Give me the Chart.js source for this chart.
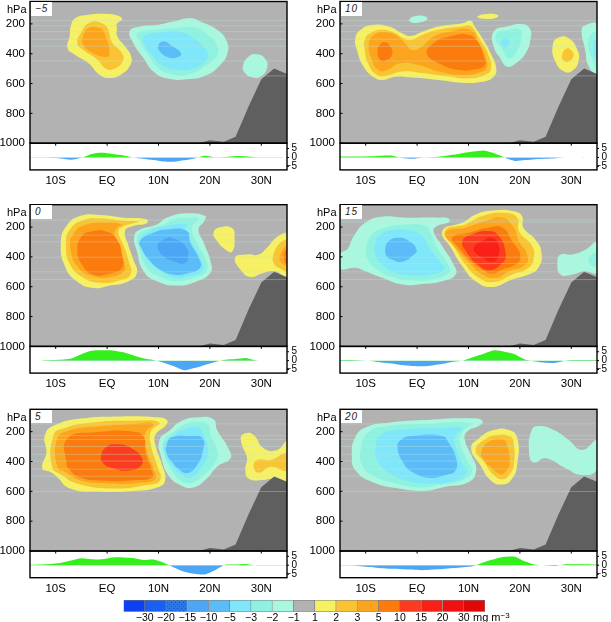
<!DOCTYPE html>
<html><head><meta charset="utf-8">
<style>
html,body{margin:0;padding:0;background:#fff;width:611px;height:622px;overflow:hidden;font-family:"Liberation Sans",Arial,sans-serif}
canvas{position:absolute}
.t{position:absolute;color:#000;white-space:nowrap;line-height:1}
.tag{position:absolute;background:#fff;color:#222;font-style:italic;font-size:10px;line-height:13px;width:21px;height:13.5px;padding-left:4px;box-sizing:border-box;letter-spacing:1px}
</style>
<script src="https://cdn.jsdelivr.net/npm/chart.js@4/dist/chart.umd.min.js"></script>
</head><body>
<script>
// ---------- axes ----------
const latTicks=[-10,0,10,20,30];
const latLabels=['10S','EQ','10N','20N','30N'];
const presTicks=[200,400,600,800,1000];
const stripTicks=[5,0,-5];
const barLabels=['−30','−20','−15','−10','−5','−3','−2','−1','1','2','3','5','10','15','20','30'];
const barColors=['#0c40f2','#1a60f0','#2a78e8','#4da6f5','#5cbcf8','#80e6fa','#8ff2e0','#aaf7e0','#b2b2b2','#f5f064','#f9c433','#fca41e','#fc7b0e','#fc3c1e','#fa2018','#f01010','#e00808'];
const levelColor={'-10':'#4da6f5','-5':'#5cbcf8','-3':'#80e6fa','-2':'#8ff2e0','-1':'#aaf7e0','1':'#f5f064','2':'#f9c433','3':'#fca41e','5':'#fc7b0e','10':'#fc3c1e','15':'#fa2018'};

// ---------- terrain (lat, hPa) ----------
const terrain=[[17.8,1000],[20,980],[22.7,990],[25,957],[27.5,755],[30,572],[32.5,500],[35,536],[35,1000]];

// ---------- strip values ----------
const stripLat=[-15,-13,-11,-9,-7,-5,-3,-1,1,3,5,7,9,11,13,15,17,19,21,23,25,27,29,31,33,35];
const stripM5=[-.2,-.2,-.3,-.6,-1.3,-.2,2,2.6,2,1.2,0,-.7,-1.5,-2.3,-2.4,-1.6,-.6,1,.1,.2,.8,.7,.1,.1,.1,0];
const strip10=[.5,.5,.5,.7,1,1.1,-.3,-.8,-.2,.2,.7,1.5,2.5,3.3,3.9,2.3,-.1,-2,-1.5,-1,-.8,-.4,-.1,-.1,-.1,0];
const strip0=[-.1,-.1,.3,.5,1.2,3.6,5.5,5.8,5.7,4.8,3,1.3,.3,-1.2,-3.2,-5.4,-4.2,-2.4,-.7,.5,.9,1.5,.1,-.1,-.1,-.1];
const strip15=[.3,.3,.1,-.2,-1,-1.6,-2.5,-3,-3.2,-2.7,-1.8,-.6,.1,2.1,3.9,5.8,5,3.6,.6,-.5,-1.2,-1.2,.1,.3,.3,.3];
const strip5=[.2,.4,.7,1.3,2.6,3.9,3.4,3.3,4.4,4.4,4,3,3.2,1.4,-1.2,-3.6,-4.8,-5.2,-2.8,.3,.4,.7,-.1,-.2,-.2,-.1];
const strip20=[-.1,-.2,-.5,-1,-1.7,-2,-2.2,-2.4,-2.8,-2.4,-2.1,-1.6,-1.1,-.4,1.7,3.3,4.7,4.8,2.1,.3,-.1,-.4,.5,.5,.5,.3];

// ---------- faint pressure lines ----------
const linesM5=[178,213,252,303,350,449,549];
const lines10=[178,213,252,303,350,449,549];
const lines0=[153,254,299,402,500,552];
const lines15=[153,167,254,299,402,444,500,552];
const lines5=[148,227,252,299,352,397,451,498,601];
const lines20=[148,227,252,299,352,397,451,498,601];

// ---------- contours, lag -5 ----------
const m5a=[[-7,207],[-6.2,162],[-4,140],[-.1,133],[2.2,146],[2.9,169],[1.9,200],[1.9,229],[2,285],[3.5,352],[4.7,420],[4.5,476],[2.9,536],[.6,563],[-1.4,543],[-3.6,464],[-6.2,408],[-7.7,364],[-7.3,285]];
const m5b=[[-5.8,330],[-4.9,250],[-3.6,195],[-1.4,190],[.1,230],[.9,320],[2.9,397],[3.1,446],[1.6,498],[-.1,502],[-2,437],[-4.6,375]];
const m5c=[[-4.7,285],[-3.6,230],[-1.4,230],[-.4,275],[.45,408],[-.7,420],[-3.3,385],[-4.6,340]];
const m5d=[[4.4,250],[6.4,218],[9.7,207],[12.9,184],[16.2,162],[18.1,184],[21.4,240],[23.3,319],[23.4,397],[22,476],[19.4,543],[15.5,572],[11.6,565],[9,520],[7.1,431],[5.1,330]];
const m5e=[[5.8,263],[9.7,240],[13.5,228],[17.5,228],[20,285],[21.4,341],[21.4,408],[19.4,476],[16.2,536],[12.3,536],[9.7,487],[8,408],[6.4,319]];
const m5f=[[7.2,285],[10.6,256],[14.2,252],[16.8,296],[19.4,386],[19.3,442],[16.8,498],[13.6,509],[10.6,476],[8.7,408],[7.4,352]];
const m5g=[[10,341],[11,319],[12.3,341],[14.4,397],[13.6,424],[11.9,424],[10.3,386]];
const m5h=[[26.4,487],[27.5,420],[29.2,404],[30.8,437],[31.1,498],[29.8,554],[28.2,558],[26.8,527]];
const panelM5=[[1,m5a],[2,m5b],[3,m5c],[-1,m5d],[-2,m5e],[-3,m5f],[-5,m5g],[-1,m5h]];

// ---------- contours, lag 10 ----------
const t10a=[[-12,296],[-11,240],[-8.8,207],[-5.5,218],[-2.9,263],[-1.3,281],[1,252],[4.2,218],[8.8,196],[10.5,180],[11,207],[12.7,296],[14.3,397],[15.4,498],[14.9,554],[12.7,588],[8.8,594],[4.2,576],[-1.6,558],[-4.2,554],[-6.8,576],[-8.4,558],[-10.4,487],[-11.7,375]];
const t10b=[[-10.1,296],[-9.1,263],[-7.1,240],[-4.9,252],[-2.6,296],[-1.3,308],[1,274],[4.2,240],[8.8,218],[10.4,214],[12.3,308],[13.9,408],[14.4,498],[13.6,536],[10.1,565],[5.5,549],[.3,527],[-2.9,520],[-6.2,549],[-7.8,543],[-9.4,476],[-10.2,375]];
const t10c=[[-9.4,330],[-8.4,274],[-6.5,256],[-4.2,274],[-2.3,330],[-1,375],[1,352],[3.2,285],[6.2,252],[10.4,241],[12,330],[13.3,420],[13.6,487],[12.7,520],[8.8,543],[4.2,520],[.3,476],[-3.2,464],[-6.2,514],[-7.5,510],[-8.8,442]];
const t10d=[[-7.7,386],[-7.1,334],[-6.2,323],[-5,364],[-4.9,408],[-5.9,442],[-7,447]];
const t10e=[[1.9,397],[3.2,330],[6.2,285],[10.1,274],[12,330],[13,420],[13.2,476],[11.4,505],[8.1,509],[4.2,464]];
const t10f=[[14.9,252],[17.5,218],[20.5,202],[21.9,229],[22.1,296],[21.1,397],[19.2,464],[17.5,487],[16.2,431],[14.9,352]];
const t10g=[[15.3,274],[17.9,240],[20.1,240],[20.3,296],[19.2,397],[17.9,431],[16.6,375]];
const t10h=[[16.4,319],[17.2,296],[17.9,319],[17.5,352],[16.9,359]];
const t10i=[[-1.5,169],[0,146],[1.6,151],[2,169],[.6,189],[-1,191]];
const t10j=[[11.7,151],[13.6,133],[15.8,142],[15.3,160],[12.7,166]];
const t10k=[[26.4,341],[27.6,290],[29.5,296],[31.2,375],[31.4,453],[30.2,514],[28.6,520],[26.9,453]];
const t10l=[[28.2,408],[29.2,364],[30.2,386],[30.4,420],[29.5,453],[28.5,446]];
const t10m=[[32,240],[32.7,209],[35,207],[35,531],[33.4,487],[32.7,375]];
const t10n=[[33.3,307],[35,252],[35,498],[34.1,442]];
const t10o=[[34.4,330],[35,307],[35,442],[34.5,408]];
const panel10=[[1,t10a],[2,t10b],[3,t10c],[5,t10d],[5,t10e],[-1,t10f],[-2,t10g],[-3,t10h],[-1,t10i],[1,t10j],[1,t10k],[2,t10l],[-1,t10m],[-2,t10n],[-3,t10o]];

// ---------- contours, lag 0 ----------
const z0a=[[-9,305],[-7.9,193],[-5.3,126],[-1.4,119],[3.2,137],[7.7,148],[7.7,175],[5.1,193],[3.5,227],[4.2,328],[5.1,417],[5.8,507],[4.2,563],[.6,592],[-2.7,608],[-5.9,563],[-8.2,462]];
const z0b=[[-8,305],[-7.2,215],[-4.9,158],[-1.4,142],[3.5,158],[6.1,164],[5.1,175],[2.9,200],[2.2,233],[3.2,323],[4.2,428],[4.6,517],[2.5,556],[-1.4,573],[-4.6,540],[-7.2,451]];
const z0c=[[-7.2,328],[-6.4,238],[-4.6,189],[-.7,171],[2.9,182],[1.9,204],[1.5,260],[2.5,372],[3.3,440],[3.3,496],[.6,534],[-2.7,529],[-5.6,473]];
const z0d=[[-5.8,350],[-4.9,260],[-3.3,231],[-.1,231],[1.9,283],[2.9,384],[2.9,473],[.6,511],[-2.7,518],[-4.9,451]];
const z0e=[[5.3,260],[6.4,216],[9.7,182],[11.6,137],[15.5,108],[19.1,126],[18.9,159],[17.8,216],[18.8,305],[20.2,440],[20.1,507],[17.5,563],[13.6,592],[9.7,563],[7.1,496],[5.8,361]];
const z0f=[[5.9,260],[7.7,216],[11,182],[12.9,148],[16.2,137],[17.8,148],[16.5,204],[17.5,305],[19.4,440],[19.1,507],[16.8,540],[13.6,563],[10.3,534],[7.7,473],[6.3,350]];
const z0g=[[6.3,283],[8.1,231],[11.6,193],[15.5,182],[15.2,216],[16.5,305],[18.4,428],[18.4,496],[16.2,525],[13.6,540],[11,507],[8.4,440],[6.8,350]];
const z0h=[[6.4,294],[9,238],[11.6,216],[15.5,227],[16.2,305],[17.8,406],[18.1,473],[15.5,511],[12.9,518],[10.3,484],[8.1,417],[6.8,350]];
const z0i=[[9.8,328],[11,283],[12.9,276],[15.2,328],[15.8,406],[14.9,444],[12.9,428],[11,395]];
const z0j=[[20.7,238],[22,202],[24.3,207],[24.8,272],[24.3,366],[23,350],[21.4,294]];
const z0k=[[24.9,406],[27.2,384],[29.5,384],[31.1,339],[33.1,265],[35,249],[35,534],[32.7,496],[30.1,511],[27.9,534],[26.2,496]];
const z0l=[[32.4,384],[33.7,305],[35,294],[35,489],[33.4,473],[32.4,440]];
const z0m=[[33.6,395],[35,328],[35,451],[34,440]];
const z0n=[[34.4,395],[35,350],[35,450]];
const panel0=[[1,z0a],[2,z0b],[3,z0c],[5,z0d],[-1,z0e],[-2,z0f],[-3,z0g],[-5,z0h],[-10,z0i],[1,z0j],[1,z0k],[2,z0l],[3,z0m],[5,z0n]];

// ---------- contours, lag 15 ----------
const f15a=[[-15,384],[-13.6,350],[-12.3,260],[-10.1,171],[-6.8,131],[-2.3,137],[4.2,137],[6.2,144],[6.2,166],[3.9,193],[3.2,227],[4.9,328],[7.1,451],[7.5,518],[4.9,563],[1,581],[-2.9,585],[-6.8,540],[-10.1,496],[-12,473],[-15,478]];
const f15b=[[-9.9,350],[-8.8,249],[-6.2,204],[-2.3,182],[1.6,193],[2.6,238],[3.9,339],[6.2,462],[6.2,507],[2.9,551],[-1,558],[-4.9,534],[-7.8,484],[-9.4,428]];
const f15c=[[-8.2,316],[-7.1,249],[-4.5,220],[-1,227],[1,260],[2.6,350],[4.9,451],[5.2,484],[2.9,518],[-1,525],[-4.2,507],[-6.8,451],[-8.1,384]];
const f15d=[[-6.2,350],[-5.5,294],[-3.6,272],[-1.6,294],[-.1,350],[-.6,384],[-3,433],[-4.9,417],[-5.9,395]];
const f15e=[[4.9,227],[8.8,171],[11.4,115],[15.2,88],[18.5,93],[20.4,126],[20.7,204],[23,283],[24.2,372],[23.6,473],[21.7,518],[18.5,551],[14.6,601],[11.4,563],[8.8,462],[6.8,350]];
const f15f=[[5.4,227],[9.4,182],[12.7,126],[16.6,104],[19.5,137],[19.8,227],[22.4,328],[22.7,406],[21.7,473],[18.5,518],[14.9,569],[12,540],[9.4,451],[7.5,350]];
const f15g=[[5.5,238],[9.4,204],[13.3,160],[16.6,137],[18.8,204],[19.8,294],[21.4,384],[21.1,451],[17.9,496],[15.3,540],[12.7,518],[10.1,440],[7.5,339]];
const f15h=[[6.8,272],[10.1,238],[13.9,204],[16.6,204],[18.5,294],[20.1,395],[19.1,451],[16.6,484],[14.6,511],[12.7,484],[10.1,417],[8.1,339]];
const f15i=[[8.8,294],[10.7,249],[13.9,227],[15.9,260],[17.2,373],[16.6,440],[14,489],[11.4,440],[9.7,373]];
const f15j=[[11,339],[12.7,294],[14.6,272],[15.8,316],[15.8,395],[14.6,433],[12.7,406],[11.4,373]];
const f15k=[[27.3,440],[27.9,384],[30.2,384],[32.8,350],[35,305],[35,503],[32.5,496],[30.2,518],[27.9,518]];
const f15l=[[33.4,406],[35,372],[35,462],[33.8,451]];
const panel15=[[-1,f15a],[-2,f15b],[-3,f15c],[-5,f15d],[1,f15e],[2,f15f],[3,f15g],[5,f15h],[10,f15i],[15,f15j],[-1,f15k],[-2,f15l]];

// ---------- contours, lag 5 ----------
const p5a=[[-12.6,446],[-11.8,346],[-12.1,222],[-10.1,155],[-4.6,110],[1.9,99],[9.7,104],[11.6,122],[11.5,155],[9.4,222],[9.5,301],[10.6,413],[11.3,525],[9.7,574],[5.1,597],[-1.4,603],[-7.2,581],[-9.8,502],[-11.1,469]];
const p5b=[[-10.7,435],[-10.4,222],[-8.5,178],[-3.3,140],[5.1,126],[10.2,140],[8.5,200],[8.6,301],[9.7,424],[10.3,525],[7.7,558],[1.2,581],[-5.9,547],[-8.8,491]];
const p5c=[[-9.7,435],[-9.7,245],[-7.5,193],[-2,166],[5.1,148],[9,148],[7.4,211],[7.7,323],[9,446],[9.4,514],[6.4,543],[.6,547],[-5.3,525],[-8.2,469]];
const p5d=[[-7.9,413],[-7.7,245],[-2,204],[5.1,200],[7.1,234],[7.5,346],[8.7,458],[8.7,507],[5.1,525],[-.7,529],[-5.3,507],[-7.2,458]];
const p5e=[[-1.2,368],[-.1,301],[1.9,285],[4.8,312],[6.8,379],[6.4,435],[3.5,462],[1.2,446],[-.7,413]];
const p5f=[[10.2,256],[12.3,189],[14.2,133],[17.5,104],[20.7,117],[21.4,189],[23.6,312],[24,379],[21.4,435],[19.4,514],[16.8,574],[14.2,558],[11.9,491],[10.6,379]];
const p5g=[[11.1,256],[13,200],[14.9,155],[17.5,133],[19.7,155],[20.1,222],[21.4,323],[21.1,402],[18.8,491],[16.5,543],[14.2,525],[12.3,446],[11.1,346]];
const p5h=[[11.1,290],[13,222],[15.5,178],[18.1,178],[18.9,234],[19.7,334],[18.4,435],[16.5,507],[14.5,491],[12.6,424],[11.3,357]];
const p5i=[[11.6,290],[12.6,238],[16.2,229],[18.6,245],[18.6,334],[17.5,424],[15.8,476],[14.2,458],[12.6,402],[11.6,346]];
const p5j=[[26,245],[26.9,211],[28.5,222],[30.5,312],[33.1,323],[35,267],[35,525],[32.7,514],[29.8,525],[27.5,514],[26.9,458],[27.2,368]];
const p5k=[[28.5,435],[29.2,390],[31.8,390],[35,346],[35,458],[31.8,435],[29.5,475]];
const panel5=[[1,p5a],[2,p5b],[3,p5c],[5,p5d],[10,p5e],[-1,p5f],[-2,p5g],[-3,p5h],[-5,p5i],[1,p5j],[2,p5k]];

// ---------- contours, lag 20 ----------
const q20a=[[-12.7,368],[-12,236],[-9.7,167],[-5.5,140],[1,122],[10.7,110],[12.7,126],[12.3,155],[9.7,200],[9.3,256],[10.7,368],[11.5,458],[10.1,536],[5.5,570],[1.6,596],[-3.6,581],[-8.8,536],[-12,458]];
const q20b=[[-11,323],[-9.7,211],[-6.5,166],[1,148],[10.7,144],[8.8,200],[8.4,278],[9.7,390],[10.7,469],[8.8,525],[4.2,558],[1,574],[-4.2,547],[-8.8,491],[-10.7,424]];
const q20c=[[-8.1,323],[-7.1,222],[-3.6,189],[4.2,178],[8.8,178],[7.5,222],[7.5,301],[8.8,413],[9.7,469],[7.5,525],[2.9,547],[-2.3,525],[-6.2,458],[-7.8,390]];
const q20d=[[-3.8,312],[-3.2,256],[-1,229],[4.9,229],[6.2,278],[7.5,368],[7.5,458],[5.5,491],[2.3,509],[-1,469],[-2.6,413]];
const q20e=[[10.5,312],[12,245],[14.9,189],[17.9,189],[19.5,245],[19.5,413],[18.5,514],[16.6,554],[14.3,525],[12.3,424]];
const q20f=[[11.4,323],[13,256],[15.6,222],[18.2,234],[18.8,278],[18.8,424],[17.9,491],[16.6,520],[14.9,491],[13,402]];
const q20g=[[12.5,334],[14,267],[16.6,251],[17.5,290],[18,413],[17.2,469],[16.2,485],[14.6,446],[13,390]];
const q20h=[[22.3,189],[23.7,162],[26.6,189],[29.5,256],[32.1,323],[35,260],[35,450],[32.1,491],[28.9,446],[25,379],[22.7,406],[21.8,346]];
const panel20=[[-1,q20a],[-2,q20b],[-3,q20c],[-5,q20d],[1,q20e],[2,q20f],[3,q20g],[-1,q20h]];

// ---------- panel table ----------
const panels=[
 {tag:'−5',col:0,row:0,c:panelM5,s:stripM5,l:linesM5},
 {tag:'10',col:1,row:0,c:panel10,s:strip10,l:lines10},
 {tag:'0', col:0,row:1,c:panel0, s:strip0, l:lines0},
 {tag:'15',col:1,row:1,c:panel15,s:strip15,l:lines15},
 {tag:'5', col:0,row:2,c:panel5, s:strip5, l:lines5},
 {tag:'20',col:1,row:2,c:panel20,s:strip20,l:lines20}
];
const rowTop=[1.5,204.7,409.3];
const colLeft=[0,310];
const MAIN_H=141.7, STRIP_H=26.7, AREA_L=30, AREA_W=257;
const FONT='"Liberation Sans",Arial,sans-serif';

function mkCanvas(l,t,w,h){const c=document.createElement('canvas');c.style.left=l+'px';c.style.top=t+'px';c.style.width=w+'px';c.style.height=h+'px';c.width=w;c.height=h;document.body.appendChild(c);return c;}
function addText(cls,l,t,html,fs){const d=document.createElement('div');d.className=cls;d.style.left=l+'px';d.style.top=t+'px';if(fs)d.style.fontSize=fs+'px';d.innerHTML=html;document.body.appendChild(d);}
function loop(pts){const n=pts.length;const w=[pts[n-1],...pts,pts[0],pts[1]];return w.map(p=>({x:p[0],y:p[1]}));}
function noPad(s){s.paddingTop=0;s.paddingBottom=0;s.paddingLeft=0;s.paddingRight=0;}
const base={responsive:false,animation:false,events:[],plugins:{legend:{display:false},tooltip:{enabled:false}}};

function frame(bg,ticksFn){return {id:'frame',
  beforeDraw(ch){if(!bg)return;const a=ch.chartArea,c=ch.ctx;c.save();c.fillStyle=bg;c.fillRect(a.left,a.top,a.right-a.left,a.bottom-a.top);c.restore();},
  afterDraw(ch){const a=ch.chartArea,c=ch.ctx;c.save();c.strokeStyle='#000';c.lineWidth=1;ticksFn(ch,c,a);c.lineWidth=1.4;c.strokeRect(a.left,a.top,a.right-a.left,a.bottom-a.top);c.restore();}};}

panels.forEach(P=>{
  const L=colLeft[P.col],T=rowTop[P.row];
  const ds=[];
  P.c.forEach(([lev,pts])=>ds.push({data:loop(pts),showLine:true,fill:'shape',backgroundColor:levelColor[lev],borderWidth:0,pointRadius:0,tension:.5,capBezierPoints:false}));
  ds.push({data:terrain.map(p=>({x:p[0],y:p[1]})),showLine:true,fill:'shape',backgroundColor:'#5f5f5f',borderWidth:0,pointRadius:0,tension:0});
  P.l.forEach(v=>ds.push({data:[{x:-15,y:v},{x:35,y:v}],showLine:true,fill:false,borderColor:'rgba(190,235,222,.35)',borderWidth:1,pointRadius:0}));
  ds.forEach((d,i)=>d.order=-i);
  const cvT=Math.floor(T)-1;
  const mainC=mkCanvas(L,cvT,306,156);
  new Chart(mainC,{type:'scatter',data:{datasets:ds},
    options:{...base,
      layout:{autoPadding:false,padding:{left:0,right:306-AREA_L-AREA_W,top:T-cvT,bottom:156-(T-cvT)-MAIN_H}},
      scales:{
        x:{type:'linear',display:false,min:-15,max:35},
        y:{type:'linear',reverse:true,min:50,max:1000,
           afterBuildTicks:s=>{s.ticks=presTicks.map(v=>({value:v}));},
           afterFit:s=>{s.width=AREA_L;noPad(s);},
           grid:{display:false,drawTicks:false},border:{display:false},
           ticks:{padding:5,color:'#000',autoSkip:false,font:{family:FONT,size:11.5},callback:v=>String(v)}}
      }},
    plugins:[frame('#b2b2b2',(ch,c,a)=>{const s=ch.scales.y;c.beginPath();presTicks.forEach(v=>{const y=s.getPixelForValue(v);c.moveTo(a.left,y);c.lineTo(a.left+2.5,y);});c.stroke();})]
  });
  const stripT=T+MAIN_H;
  const stripCvT=Math.floor(stripT)-1;
  const stripC=mkCanvas(L,stripCvT,297,48);
  new Chart(stripC,{type:'scatter',data:{datasets:[{
      data:stripLat.map((x,i)=>({x,y:P.s[i]})),showLine:true,borderWidth:0,pointRadius:0,tension:.25,
      fill:{target:{value:0},above:'#33f01a',below:'#4da6f5'}}]},
    options:{...base,
      layout:{autoPadding:false,padding:{left:AREA_L,right:0,top:stripT-stripCvT,bottom:0}},
      scales:{
        x:{type:'linear',min:-15,max:35,position:'bottom',
           afterBuildTicks:s=>{s.ticks=latTicks.map(v=>({value:v}));},
           afterFit:s=>{s.height=48-(stripT-stripCvT)-STRIP_H;noPad(s);},
           grid:{display:false,drawTicks:false},border:{display:false},
           ticks:{padding:4,color:'#000',autoSkip:false,maxRotation:0,font:{family:FONT,size:11.5},callback:v=>latLabels[latTicks.indexOf(v)]}},
        y:{type:'linear',position:'right',min:-7,max:8,
           afterBuildTicks:s=>{s.ticks=stripTicks.map(v=>({value:v}));},
           afterFit:s=>{s.width=297-AREA_L-AREA_W;noPad(s);},
           grid:{display:false,drawTicks:false},border:{display:false},
           ticks:{padding:2,crossAlign:'far',color:'#000',autoSkip:false,font:{family:FONT,size:10},callback:v=>v<0?'−'+(-v):String(v)}}
      }},
    plugins:[frame(null,(ch,c,a)=>{const sx=ch.scales.x,sy=ch.scales.y;c.beginPath();
      latTicks.forEach(v=>{const x=sx.getPixelForValue(v);c.moveTo(x,a.top);c.lineTo(x,a.top+2.5);});
      stripTicks.forEach(v=>{const y=sy.getPixelForValue(v);c.moveTo(a.right,y);c.lineTo(a.right+2,y);});c.stroke();})]
  });
  addText('t',L+7,T+2.5,'hPa',11);
  const tg=document.createElement('div');tg.className='tag';tg.style.left=(L+31)+'px';tg.style.top=(T+.5)+'px';tg.textContent=P.tag;document.body.appendChild(tg);
});

// colour bar
const barC=mkCanvas(113,596,395,26);
const dot=document.createElement('canvas');dot.width=dot.height=4;
{const g=dot.getContext('2d');g.fillStyle=barColors[2];g.fillRect(0,0,4,4);g.fillStyle='#1a50d8';g.fillRect(0,0,1,1);g.fillRect(2,2,1,1);}
const dotPat=document.createElement('canvas').getContext('2d').createPattern(dot,'repeat');
new Chart(barC,{type:'bar',
  data:{labels:[''],datasets:barColors.map((col,i)=>({data:[1],backgroundColor:i===2?dotPat:col,borderColor:'#7a7a7a',borderWidth:.8,categoryPercentage:1,barPercentage:1}))},
  options:{...base,indexAxis:'y',
    layout:{autoPadding:false,padding:{left:10.5,right:23,top:4,bottom:0}},
    scales:{
      x:{type:'linear',stacked:true,min:0,max:17,
         afterBuildTicks:s=>{s.ticks=barLabels.map((_,i)=>({value:i+1}));},
         afterFit:s=>{s.height=10.3;noPad(s);},
         grid:{display:false,drawTicks:false},border:{display:false},
         ticks:{padding:0,color:'#000',autoSkip:false,maxRotation:0,font:{family:FONT,size:10.5},callback:v=>barLabels[v-1]}},
      y:{stacked:true,display:false}
    }}
});
addText('t',473,612,'mg m<sup style="font-size:8px;vertical-align:3px;line-height:0">−3</sup>',11);
</script>
</body></html>
